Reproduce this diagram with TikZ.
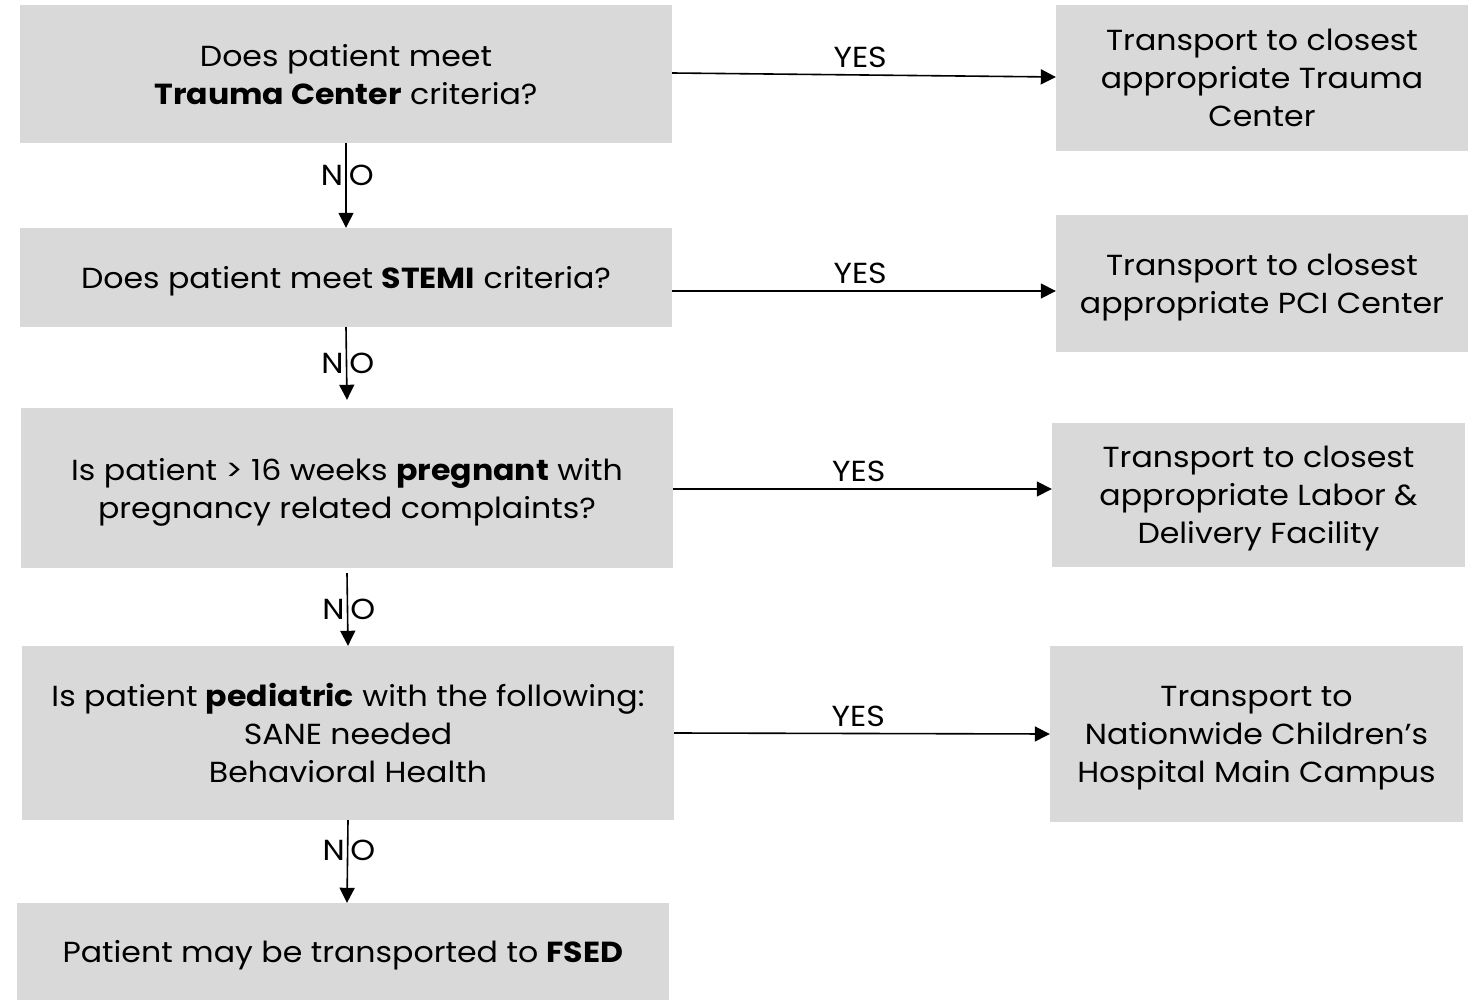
\documentclass[tikz,border=0pt]{standalone}
\usepackage{fontspec}
\setmainfont[FakeStretch=1.09]{Poppins}
\usetikzlibrary{arrows.meta}
\definecolor{boxgray}{HTML}{D9D9D9}

\begin{document}
\begin{tikzpicture}[x=1pt,y=-1pt,
        box/.style={fill=boxgray,inner sep=0pt,align=center,text depth=0pt,font=\fontsize{29}{38}\selectfont},
        arr/.style={line width=1.6pt,-{Triangle[length=15pt,width=15pt]}},
        lbl/.style={font=\fontsize{29}{38}\selectfont,inner sep=1pt}]
        \useasboundingbox (0,0) rectangle (1468,1000);

        % questions
        \node[box,minimum width=652pt,minimum height=138pt] (q1) at (346,74) {Does patient meet\\\textbf{Trauma Center} criteria?};
        \node[box,minimum width=652pt,minimum height=99pt] (q2) at (346,277.5) {Does patient meet \textbf{STEMI} criteria?};
        \node[box,minimum width=652pt,minimum height=160pt] (q3) at (347,488) {Is patient > 16 weeks \textbf{pregnant} with\\pregnancy related complaints?};
        \node[box,minimum width=652pt,minimum height=174pt] (q4) at (348,733) {Is patient \textbf{pediatric} with the following:\\SANE needed\\Behavioral Health};
        \node[box,minimum width=652pt,minimum height=97pt] (fsed) at (343,951.5) {Patient may be transported to \textbf{FSED}};

        % answers
        \node[box,minimum width=412pt,minimum height=146pt] (trauma) at (1262,78) {Transport to closest\\appropriate Trauma\\Center};
        \node[box,minimum width=412pt,minimum height=137pt] (pci) at (1262,283.5) {Transport to closest\\appropriate PCI Center};
        \node[box,minimum width=413pt,minimum height=144pt] (labor) at (1258.5,495) {Transport to closest\\appropriate Labor \&\\Delivery Facility};
        \node[box,minimum width=413pt,minimum height=176pt] (nch) at (1256.5,734) {Transport to\\Nationwide Children’s\\Hospital Main Campus};

        % yes
        \draw[arr] ([yshift=1pt]q1.east) -- ([yshift=1pt]trauma.west) node[lbl,pos=0.49,above=5pt] {YES};
        \draw[arr] ([yshift=-13.5pt]q2.east) -- ([yshift=-7.5pt]pci.west) node[lbl,pos=0.49,above=5pt] {YES};
        \draw[arr] ([yshift=-1pt]q3.east) -- ([yshift=6pt]labor.west) node[lbl,pos=0.49,above=5pt] {YES};
        \draw[arr] (q4.east) -- (nch.west) node[lbl,pos=0.49,above=5pt] {YES};

        % no
        \draw[arr] (q1.south) -- (q2.north) node[lbl,pos=0.38,left=1pt] {N} node[lbl,pos=0.38,right=1pt] {O};
        \draw[arr] (q2.south) -- ([yshift=8pt]q3.north) node[lbl,pos=0.5,left=1pt] {N} node[lbl,pos=0.5,right=1pt] {O};
        \draw[arr] ([yshift=-5pt]q3.south) -- (q4.north) node[lbl,pos=0.5,left=1pt] {N} node[lbl,pos=0.5,right=1pt] {O};
        \draw[arr] (q4.south) -- ([xshift=4pt]fsed.north) node[lbl,pos=0.37,left=1pt] {N} node[lbl,pos=0.37,right=1pt] {O};
\end{tikzpicture}
\end{document}
